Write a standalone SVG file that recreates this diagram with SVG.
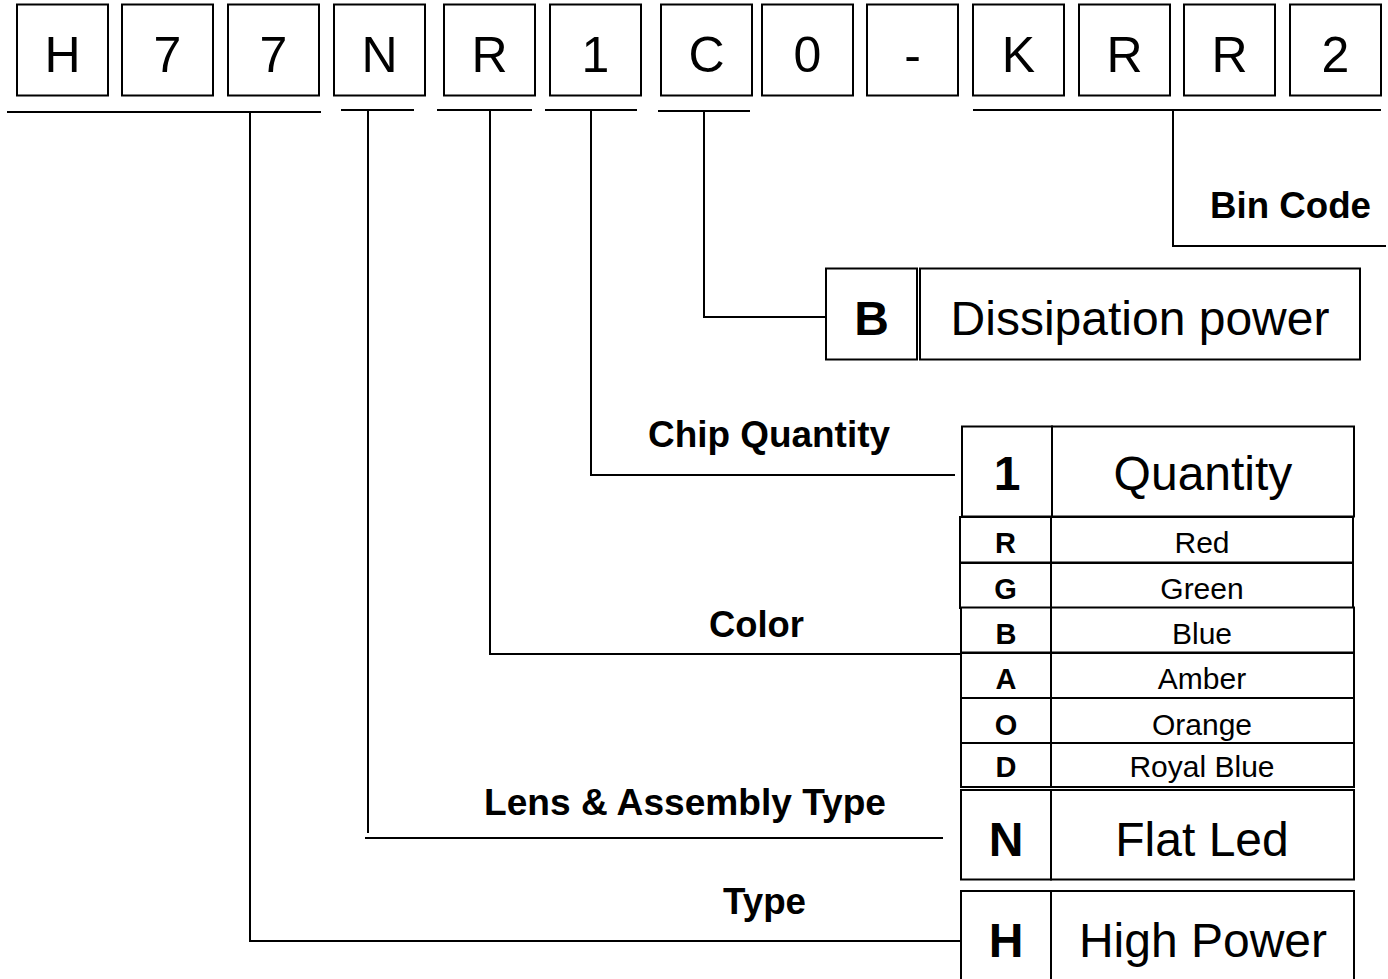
<svg xmlns="http://www.w3.org/2000/svg" width="1388" height="979" viewBox="0 0 1388 979">
<style>
.box{fill:#fff;stroke:#000;stroke-width:2}
.ch{font-family:"Liberation Sans",Arial,sans-serif;font-size:50px;text-anchor:middle;fill:#000}
.lbl{font-family:"Liberation Sans",Arial,sans-serif;font-size:36px;font-weight:bold;fill:#000}
.big{font-family:"Liberation Sans",Arial,sans-serif;font-size:48px;text-anchor:middle;fill:#000}
.bigb{font-family:"Liberation Sans",Arial,sans-serif;font-size:48px;font-weight:bold;text-anchor:middle;fill:#000}
.sm{font-family:"Liberation Sans",Arial,sans-serif;font-size:30px;text-anchor:middle;fill:#000}
.smb{font-family:"Liberation Sans",Arial,sans-serif;font-size:29px;font-weight:bold;text-anchor:middle;fill:#000}
.ln{fill:none;stroke:#000;stroke-width:2}
</style>
<rect width="1388" height="979" fill="#fff"/>
<g id="code">
<g id="c1"><rect class="box" x="17" y="4.5" width="91" height="91"/><text class="ch" x="62.5" y="72">H</text></g>
<g id="c2"><rect class="box" x="122" y="4.5" width="91" height="91"/><text class="ch" x="167.5" y="72">7</text></g>
<g id="c3"><rect class="box" x="228" y="4.5" width="91" height="91"/><text class="ch" x="273.5" y="72">7</text></g>
<g id="c4"><rect class="box" x="334" y="4.5" width="91" height="91"/><text class="ch" x="379.5" y="72">N</text></g>
<g id="c5"><rect class="box" x="444" y="4.5" width="91" height="91"/><text class="ch" x="489.5" y="72">R</text></g>
<g id="c6"><rect class="box" x="550" y="4.5" width="91" height="91"/><text class="ch" x="595.5" y="72">1</text></g>
<g id="c7"><rect class="box" x="661" y="4.5" width="91" height="91"/><text class="ch" x="706.5" y="72">C</text></g>
<g id="c8"><rect class="box" x="762" y="4.5" width="91" height="91"/><text class="ch" x="807.5" y="72">0</text></g>
<g id="c9"><rect class="box" x="867" y="4.5" width="91" height="91"/><text class="ch" x="912.5" y="72">-</text></g>
<g id="c10"><rect class="box" x="973" y="4.5" width="91" height="91"/><text class="ch" x="1018.5" y="72">K</text></g>
<g id="c11"><rect class="box" x="1079" y="4.5" width="91" height="91"/><text class="ch" x="1124.5" y="72">R</text></g>
<g id="c12"><rect class="box" x="1184" y="4.5" width="91" height="91"/><text class="ch" x="1229.5" y="72">R</text></g>
<g id="c13"><rect class="box" x="1290" y="4.5" width="91" height="91"/><text class="ch" x="1335.5" y="72">2</text></g>
</g>
<g id="connectors">
<path class="ln" d="M7 112H321M250 112V941H962"/>
<path class="ln" d="M341 110H414M368 110V833M365 838H943"/>
<path class="ln" d="M437 110H532M490 110V654H961"/>
<path class="ln" d="M545 110H637M591 110V475H955"/>
<path class="ln" d="M658 111H750M704 111V317H826"/>
<path class="ln" d="M973 110H1381M1173 110V246H1386"/>
</g>
<g id="labels">
<text class="lbl" x="1210" y="218" textLength="161" lengthAdjust="spacingAndGlyphs">Bin Code</text>
<text class="lbl" x="648" y="447" textLength="242" lengthAdjust="spacingAndGlyphs">Chip Quantity</text>
<text class="lbl" x="709" y="637" textLength="95" lengthAdjust="spacingAndGlyphs">Color</text>
<text class="lbl" x="484" y="815" textLength="402" lengthAdjust="spacingAndGlyphs">Lens &amp; Assembly Type</text>
<text class="lbl" x="723" y="914" textLength="83" lengthAdjust="spacingAndGlyphs">Type</text>
</g>
<g id="dissipation">
<rect class="box" x="826" y="268.5" width="91" height="91"/>
<rect class="box" x="920" y="268.5" width="440" height="91"/>
<text class="bigb" x="871.5" y="335">B</text>
<text class="big" x="1140" y="335">Dissipation power</text>
</g>
<g id="quantity">
<rect class="box" x="962" y="426.5" width="90" height="90"/>
<rect class="box" x="1052" y="426.5" width="302" height="90"/>
<text class="bigb" x="1007" y="490">1</text>
<text class="big" x="1203" y="490">Quantity</text>
</g>
<g id="color-table">
<g id="row-r"><rect class="box" x="960" y="517" width="91" height="45.5"/><rect class="box" x="1051" y="517" width="302" height="45.5"/><text class="smb" x="1005.5" y="553">R</text><text class="sm" x="1202" y="553">Red</text></g>
<g id="row-g"><rect class="box" x="960" y="563" width="91" height="45"/><rect class="box" x="1051" y="563" width="302" height="45"/><text class="smb" x="1005.5" y="599">G</text><text class="sm" x="1202" y="599">Green</text></g>
<g id="row-b"><rect class="box" x="961" y="607.5" width="90" height="45"/><rect class="box" x="1051" y="607.5" width="303" height="45"/><text class="smb" x="1006" y="644">B</text><text class="sm" x="1202" y="644">Blue</text></g>
<g id="row-a"><rect class="box" x="961" y="653" width="90" height="45"/><rect class="box" x="1051" y="653" width="303" height="45"/><text class="smb" x="1006" y="689">A</text><text class="sm" x="1202" y="689">Amber</text></g>
<g id="row-o"><rect class="box" x="961" y="698" width="90" height="45"/><rect class="box" x="1051" y="698" width="303" height="45"/><text class="smb" x="1006" y="735">O</text><text class="sm" x="1202" y="735">Orange</text></g>
<g id="row-d"><rect class="box" x="961" y="743" width="90" height="44"/><rect class="box" x="1051" y="743" width="303" height="44"/><text class="smb" x="1006" y="777">D</text><text class="sm" x="1202" y="777">Royal Blue</text></g>
</g>
<g id="lens">
<rect class="box" x="961" y="790" width="90" height="89.5"/>
<rect class="box" x="1051" y="790" width="303" height="89.5"/>
<text class="bigb" x="1006" y="856">N</text>
<text class="big" x="1202" y="856">Flat Led</text>
</g>
<g id="type">
<rect class="box" x="961" y="891" width="90" height="100"/>
<rect class="box" x="1051" y="891" width="303" height="100"/>
<text class="bigb" x="1006" y="957">H</text>
<text class="big" x="1203" y="957">High Power</text>
</g>
</svg>
